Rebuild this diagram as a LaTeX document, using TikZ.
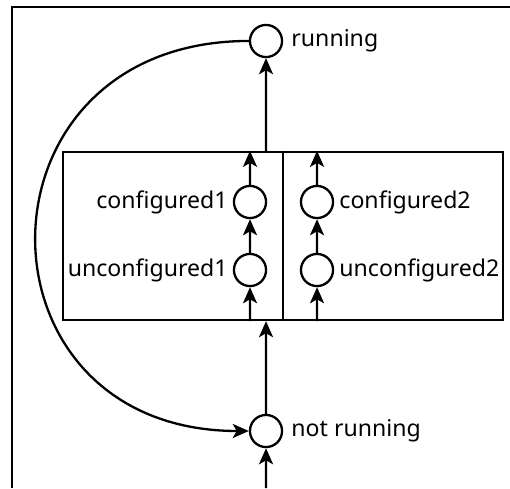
\documentclass[tikz,border=0pt]{standalone}
\usepackage{fontspec}
\setmainfont{Noto Sans}
\usetikzlibrary{arrows.meta}
\begin{document}
\begin{tikzpicture}
  [scale=.35,line width=2.3pt,>={Stealth[length=16pt,width=14pt,inset=4pt]},
   state/.style={circle,draw,minimum size=32pt,inner sep=0pt},
   every label/.style={font=\fontsize{23}{28}\selectfont,inner sep=4pt},
   every node/.style={font=\fontsize{23}{28}\selectfont}]
  \useasboundingbox (0,0) rectangle (51,48.8);
  \draw[line width=2.6pt] (1.2,0) -- (1.2,48.1) -- (51.5,48.1);

  \node[state,label={[label distance=3pt]right:running}] (running) at (26.6,44.7) {};
  \node[state,label={[label distance=3pt]right:not running}] (notrunning) at (26.6,5.7) {};
  \node[draw,minimum width=15.4cm,minimum height=5.88cm] (cluster) at (28.3,25.2) {};
  \node[state,label=left:configured1] (c1) at (25,28.6) {};
  \node[state,label=left:unconfigured1] (u1) at (25,21.8) {};
  \node[state,label=right:configured2] (c2) at (31.7,28.6) {};
  \node[state,label=right:unconfigured2] (u2) at (31.7,21.8) {};
  \coordinate (input) at (26.6,0);

  \draw (cluster.north) -- (cluster.south);
  \foreach \from/\to in {input/notrunning,u1/c1,u2/c2}
    \draw[->] (\from) -- (\to);
  \foreach \n in {c1,c2}
    \draw[->] (\n) -- (cluster.north -| \n);
  \foreach \n in {u1,u2}
    \draw[->] (cluster.south -| \n) -- (\n);
  \draw[->] (notrunning) -- (cluster.south -| notrunning);
  \draw[->] (cluster.north -| running) -- (running);
  \draw[->] (running.west) .. controls +(180:28.3) and +(180:28.3) .. (notrunning.west);

\end{tikzpicture}
\end{document}
